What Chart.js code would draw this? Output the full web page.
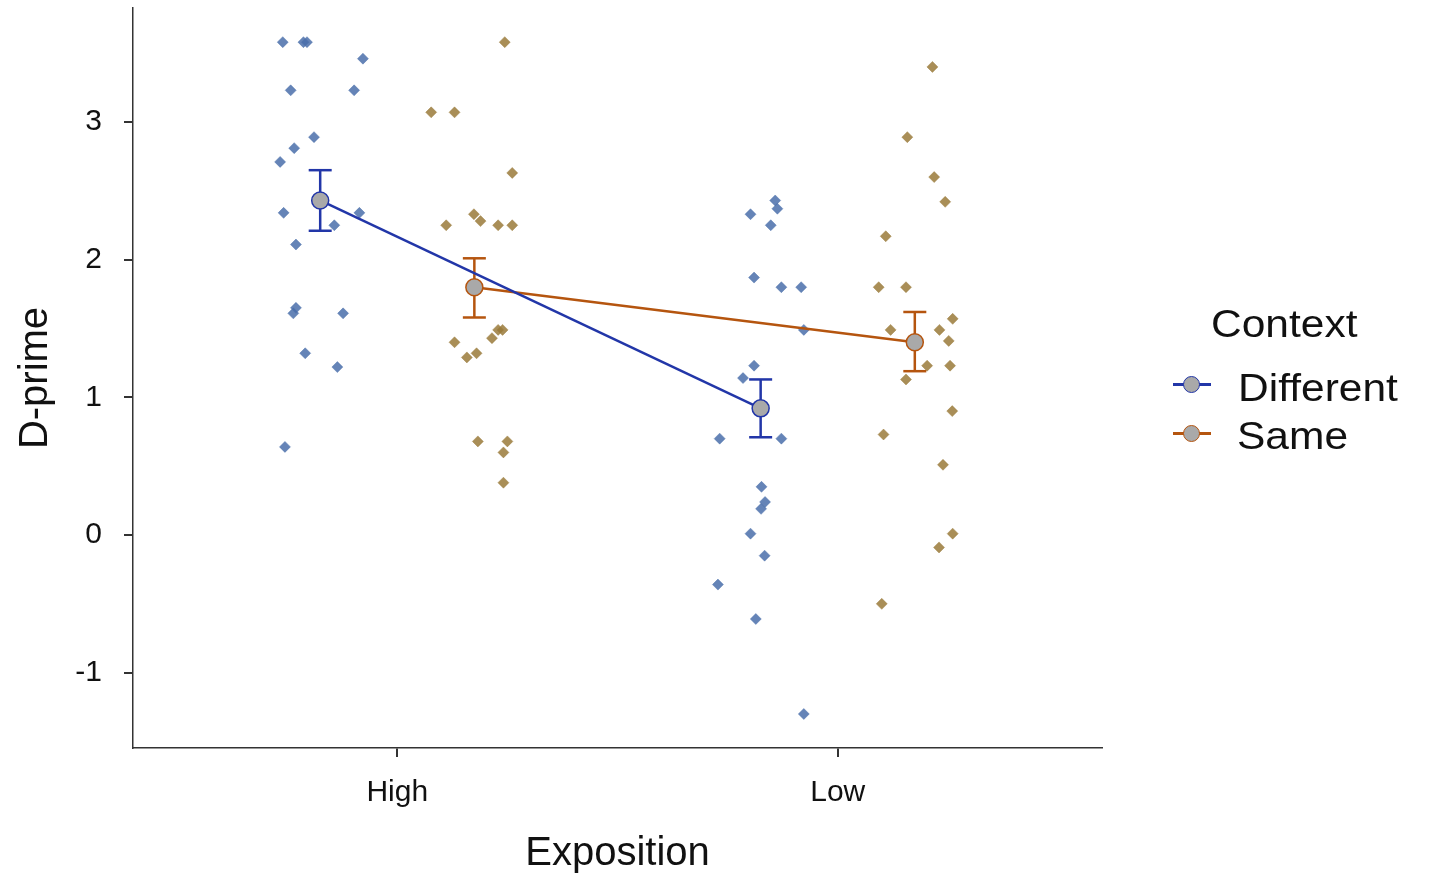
<!DOCTYPE html>
<html>
<head>
<meta charset="utf-8">
<script src="https://cdn.jsdelivr.net/npm/chart.js@4"></script>
<style>
  body { margin: 0; background: #fff; }
  #wrap { position: relative; width: 1432px; height: 881px; font-family: "Liberation Sans", Arial, sans-serif; }
  .leg { position: absolute; font-size: 39px; line-height: 39px; color: #111; white-space: nowrap; transform: scaleX(1.09); transform-origin: left center; }
  .keyline { position: absolute; height: 3px; width: 38px; }
  .keydot { position: absolute; width: 15px; height: 15px; border-radius: 50%; background: #a9a9a9; border: 1.5px solid; }
</style>
</head>
<body>
<div id="wrap">
  <canvas id="chart"></canvas>
  <div class="leg" style="left:1211px;top:304px">Context</div>
  <div class="keyline" style="left:1173px;top:383px;background:#2236a8"></div>
  <div class="keydot" style="left:1183px;top:376px;border-color:#2236a8"></div>
  <div class="leg" style="left:1238px;top:368px">Different</div>
  <div class="keyline" style="left:1173px;top:432px;background:#b5550f"></div>
  <div class="keydot" style="left:1183px;top:425px;border-color:#b5550f"></div>
  <div class="leg" style="left:1237px;top:416px">Same</div>
</div>
<script>
// x positions: High = 1, Low = 2 (dodged by 0.175 for the two contexts)
const xTickValues = [1, 2];
const xTickLabels = ['High', 'Low'];
const yTickValues = [-1, 0, 1, 2, 3];

// group means and error bars
const diffMeanX = [0.825, 1.825];
const diffMean = [2.43, 0.92];
const diffLo = [2.21, 0.71];
const diffHi = [2.65, 1.13];

const sameMeanX = [1.175, 2.175];
const sameMean = [1.80, 1.40];
const sameLo = [1.58, 1.19];
const sameHi = [2.01, 1.62];

// jittered raw scores
const diffHighX = [0.740, 0.787, 0.795, 0.922, 0.758, 0.902, 0.811, 0.766, 0.734, 0.742, 0.914, 0.857, 0.770, 0.770, 0.764, 0.877, 0.791, 0.864, 0.745];
const diffHighY = [3.58, 3.58, 3.58, 3.46, 3.23, 3.23, 2.89, 2.81, 2.71, 2.34, 2.34, 2.25, 2.11, 1.65, 1.61, 1.61, 1.32, 1.22, 0.64];

const sameHighX = [1.244, 1.077, 1.130, 1.261, 1.174, 1.189, 1.111, 1.229, 1.261, 1.229, 1.239, 1.215, 1.130, 1.180, 1.158, 1.183, 1.250, 1.241, 1.241];
const sameHighY = [3.58, 3.07, 3.07, 2.63, 2.33, 2.28, 2.25, 2.25, 2.25, 1.49, 1.49, 1.43, 1.40, 1.32, 1.29, 0.68, 0.68, 0.60, 0.38];

const diffLowX = [1.858, 1.863, 1.802, 1.848, 1.810, 1.872, 1.917, 1.923, 1.810, 1.785, 1.732, 1.872, 1.827, 1.835, 1.826, 1.802, 1.834, 1.728, 1.814, 1.923];
const diffLowY = [2.43, 2.37, 2.33, 2.25, 1.87, 1.80, 1.80, 1.49, 1.23, 1.14, 0.70, 0.70, 0.35, 0.24, 0.19, 0.01, -0.15, -0.36, -0.61, -1.30];

const sameLowX = [2.215, 2.158, 2.219, 2.244, 2.109, 2.093, 2.155, 2.261, 2.120, 2.231, 2.252, 2.203, 2.255, 2.155, 2.260, 2.104, 2.239, 2.261, 2.230, 2.100];
const sameLowY = [3.40, 2.89, 2.60, 2.42, 2.17, 1.80, 1.80, 1.57, 1.49, 1.49, 1.41, 1.23, 1.23, 1.13, 0.90, 0.73, 0.51, 0.01, -0.09, -0.50];

const diffLine = '#2236a8';
const sameLine = '#b5550f';
const diffPoint = 'rgba(74, 111, 170, 0.85)';
const samePoint = 'rgba(154, 122, 58, 0.85)';

function toPoints(xs, ys) {
    return xs.map((x, i) => ({ x: x, y: ys[i] }));
}

// vertical segments with a null gap between them
function errorBarPoints(xs, lo, hi) {
    const pts = [];
    xs.forEach((x, i) => {
        if (i > 0) pts.push({ x: x, y: null });
        pts.push({ x: x, y: lo[i] });
        pts.push({ x: x, y: hi[i] });
    });
    return pts;
}

function jitterSet(xs, ys, color) {
    return {
        data: toPoints(xs, ys),
        showLine: false,
        pointStyle: 'rectRot',
        pointRadius: 5.5,
        pointBackgroundColor: color,
        pointBorderColor: color,
        pointBorderWidth: 0.5,
        order: 3
    };
}

function errorSet(xs, lo, hi, color) {
    return {
        data: errorBarPoints(xs, lo, hi),
        showLine: true,
        spanGaps: false,
        borderColor: color,
        borderWidth: 2.5,
        pointStyle: 'line',
        pointRadius: 11.5,
        pointBorderColor: color,
        pointBorderWidth: 2.5,
        order: 1
    };
}

function meanSet(xs, ys, color) {
    return {
        data: toPoints(xs, ys),
        showLine: true,
        borderColor: color,
        borderWidth: 2.5,
        pointStyle: 'circle',
        pointRadius: 8.5,
        pointBackgroundColor: '#a9a9a9',
        pointBorderColor: color,
        pointBorderWidth: 1.5,
        order: 0
    };
}

const axisColor = '#333333';
const fontFamily = '"Liberation Sans", Arial, sans-serif';

new Chart(document.getElementById('chart'), {
    type: 'scatter',
    data: {
        datasets: [
            jitterSet(diffHighX, diffHighY, diffPoint),
            jitterSet(diffLowX, diffLowY, diffPoint),
            jitterSet(sameHighX, sameHighY, samePoint),
            jitterSet(sameLowX, sameLowY, samePoint),
            errorSet(diffMeanX, diffLo, diffHi, diffLine),
            errorSet(sameMeanX, sameLo, sameHi, sameLine),
            meanSet(diffMeanX, diffMean, diffLine),
            meanSet(sameMeanX, sameMean, sameLine)
        ]
    },
    options: {
        responsive: true,
        maintainAspectRatio: false,
        animation: false,
        layout: { autoPadding: false, padding: { top: 8, right: 330, bottom: 0, left: 0 } },
        plugins: {
            legend: { display: false },
            tooltip: { enabled: false }
        },
        scales: {
            x: {
                type: 'linear',
                min: 0.4,
                max: 2.6,
                afterBuildTicks: (scale) => { scale.ticks = xTickValues.map(v => ({ value: v })); },
                afterFit: (scale) => {
                    scale.height = 133;
                    scale.paddingLeft = 0;
                    scale.paddingRight = 0;
                },
                ticks: {
                    padding: 18,
                    color: '#111',
                    font: { family: fontFamily, size: 30 },
                    callback: (v) => xTickLabels[xTickValues.indexOf(v)]
                },
                grid: { display: true, drawOnChartArea: false, drawTicks: true, tickLength: 9, color: axisColor, lineWidth: 2 },
                border: { display: true, color: axisColor, width: 1.5 },
                title: {
                    display: true,
                    text: 'Exposition',
                    color: '#111',
                    font: { family: fontFamily, size: 40 },
                    padding: { top: 0, bottom: 3 }
                }
            },
            y: {
                type: 'linear',
                min: -1.547,
                max: 3.828,
                afterBuildTicks: (scale) => { scale.ticks = yTickValues.map(v => ({ value: v })); },
                afterFit: (scale) => {
                    scale.width = 133;
                    scale.paddingTop = 0;
                    scale.paddingBottom = 0;
                },
                ticks: {
                    padding: 22,
                    color: '#111',
                    font: { family: fontFamily, size: 30 },
                    callback: (v) => String(v)
                },
                grid: { display: true, drawOnChartArea: false, drawTicks: true, tickLength: 9, color: axisColor, lineWidth: 2 },
                border: { display: true, color: axisColor, width: 1.5 },
                title: {
                    display: true,
                    text: 'D-prime',
                    color: '#111',
                    font: { family: fontFamily, size: 40 },
                    padding: { top: 12, bottom: 0 }
                }
            }
        }
    }
});
</script>
</body>
</html>
